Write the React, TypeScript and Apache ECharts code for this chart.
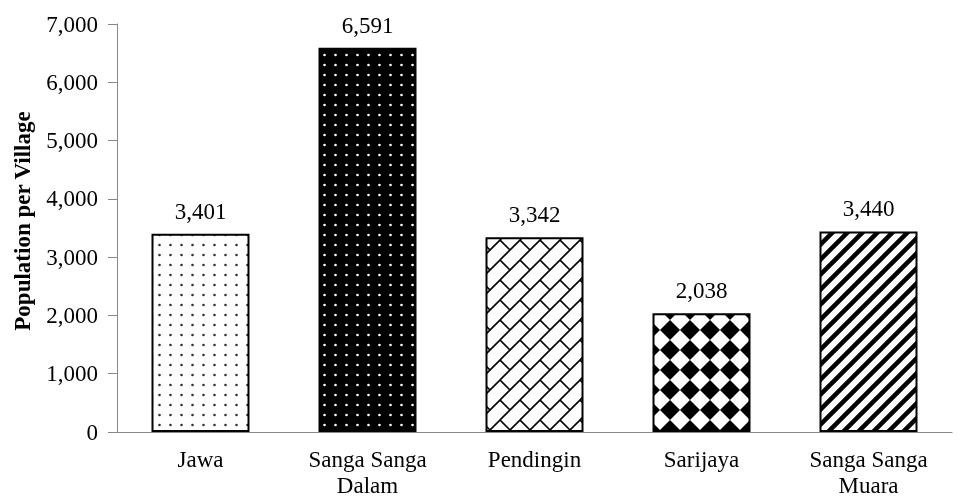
import React, { useEffect, useRef } from "react";
import * as echarts from "echarts";

const categories = ["Jawa", "Sanga Sanga\nDalam", "Pendingin", "Sarijaya", "Sanga Sanga\nMuara"];
const population = [3401, 6591, 3342, 2038, 3440];
const yTicks = { min: 0, max: 7000, interval: 1000 };

const FONT = "'Liberation Serif', 'Times New Roman', serif";

function makeTile(w: number, h: number, draw: (ctx: CanvasRenderingContext2D) => void) {
  const c = document.createElement("canvas");
  c.width = w;
  c.height = h;
  const ctx = c.getContext("2d")!;
  draw(ctx);
  return { image: c.toDataURL(), repeat: "repeat", imageWidth: w, imageHeight: h } as any;
}

function dots(bg: string, fg: string) {
  return makeTile(11, 10, (ctx) => {
    ctx.fillStyle = bg;
    ctx.fillRect(0, 0, 11, 10);
    ctx.fillStyle = fg;
    ctx.beginPath();
    ctx.arc(5.5, 5, 1.3, 0, Math.PI * 2);
    ctx.fill();
  });
}

function bricks() {
  const s = 20;
  const H = s / Math.SQRT2;
  const L = 2 * H;
  return makeTile(s, s, (ctx) => {
    ctx.fillStyle = "#fff";
    ctx.fillRect(0, 0, s, s);
    ctx.strokeStyle = "#000";
    ctx.lineWidth = 1.6;
    ctx.save();
    ctx.rotate(-Math.PI / 4);
    ctx.beginPath();
    for (let k = -10; k <= 10; k++) {
      ctx.moveTo(-200, k * H);
      ctx.lineTo(200, k * H);
      for (let j = -12; j <= 12; j++) {
        const x = j * L + (Math.abs(k) % 2 === 1 ? L / 2 : 0);
        ctx.moveTo(x, k * H);
        ctx.lineTo(x, (k + 1) * H);
      }
    }
    ctx.stroke();
    ctx.restore();
  });
}

function diamonds() {
  const s = 20;
  return makeTile(s, s, (ctx) => {
    ctx.fillStyle = "#fff";
    ctx.fillRect(0, 0, s, s);
    ctx.fillStyle = "#000";
    const r = 10;
    ctx.beginPath();
    ctx.moveTo(10, 10 - r);
    ctx.lineTo(10 + r, 10);
    ctx.lineTo(10, 10 + r);
    ctx.lineTo(10 - r, 10);
    ctx.closePath();
    ctx.fill();
  });
}

function stripes() {
  const s = 15;
  return makeTile(s, s, (ctx) => {
    ctx.fillStyle = "#fff";
    ctx.fillRect(0, 0, s, s);
    ctx.strokeStyle = "#000";
    ctx.lineWidth = 4.5;
    ctx.beginPath();
    for (let k = -1; k <= 1; k++) {
      ctx.moveTo(k * s - 2, s + 2);
      ctx.lineTo(k * s + s + 2, -2);
    }
    ctx.stroke();
  });
}

export default function App() {
  const ref = useRef<HTMLDivElement>(null);
  useEffect(() => {
    if (!ref.current) return;
    const chart = echarts.init(ref.current, undefined, { renderer: "svg" });
    const patterns = [dots("#fff", "#333"), dots("#000", "#fff"), bricks(), diamonds(), stripes()];
    chart.setOption({
      animation: false,
      grid: { left: 117, right: 7, top: 24, bottom: 65, containLabel: false, outerBoundsMode: "none" },
      xAxis: {
        type: "category",
        data: categories,
        axisLine: { lineStyle: { color: "#888", width: 1 } },
        axisTick: { show: false },
        axisLabel: { color: "#000", fontFamily: FONT, fontSize: 23, margin: 14, lineHeight: 26 },
      },
      yAxis: {
        type: "value",
        min: yTicks.min,
        max: yTicks.max,
        interval: yTicks.interval,
        name: "Population per Village",
        nameLocation: "middle",
        nameGap: 83,
        nameTextStyle: {
          color: "#000",
          fontFamily: FONT,
          fontSize: 23,
          fontWeight: "bold",
          padding: [0, 0, 0, 14],
        },
        axisLine: { show: true, lineStyle: { color: "#888", width: 1 } },
        axisTick: { show: true, length: 9, lineStyle: { color: "#888" } },
        splitLine: { show: false },
        axisLabel: {
          color: "#000",
          fontFamily: FONT,
          fontSize: 23,
          margin: 19,
          formatter: (v: number) => v.toLocaleString("en-US"),
        },
      },
      series: [
        {
          type: "bar",
          barWidth: 98,
          data: population.map((v, i) => ({
            value: v,
            itemStyle: { color: patterns[i], borderColor: "#000", borderWidth: 2 },
          })),
          label: {
            show: true,
            position: "top",
            distance: 11,
            color: "#000",
            fontFamily: FONT,
            fontSize: 23,
            formatter: (p: any) => Number(p.value).toLocaleString("en-US"),
          },
        },
      ],
    });
    return () => chart.dispose();
  }, []);
  return <div ref={ref} style={{ position: "fixed", left: 0, top: 0, width: 959, height: 497 }} />;
}
